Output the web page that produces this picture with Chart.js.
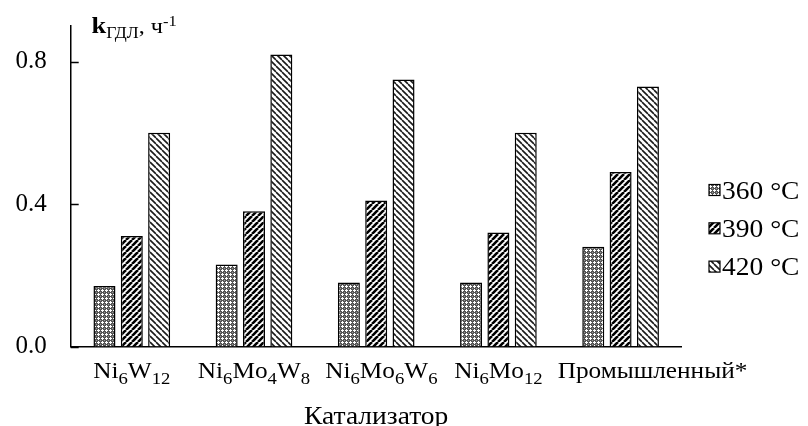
<!DOCTYPE html>
<html>
<head>
<meta charset="utf-8">
<script src="https://cdn.jsdelivr.net/npm/chart.js@4.4.1/dist/chart.umd.min.js"></script>
<style>
  html, body { margin: 0; padding: 0; background: #fff; }
  canvas { display: block; }
</style>
</head>
<body>
<canvas id="chart" width="808" height="426"></canvas>
<script>
// Catalyst names (digits are written as subscripts) and rate constants k, h^-1
const categories = ['Ni6W12', 'Ni6Mo4W8', 'Ni6Mo6W6', 'Ni6Mo12', 'Промышленный*'];
const seriesLabels = ['360 °C', '390 °C', '420 °C'];
const k360 = [0.17, 0.23, 0.18, 0.18, 0.28];
const k390 = [0.31, 0.38, 0.41, 0.32, 0.49];
const k420 = [0.60, 0.82, 0.75, 0.60, 0.73];
const yTickValues = [0.0, 0.4, 0.8];
const xAxisTitle = 'Катализатор';

const SERIF = '"Liberation Serif", "Times New Roman", serif';
const TEXT_SX = 1.1; // slight horizontal widening of the serif text

// Hatch fills for the three temperature series
function makePattern(kind) {
  const c = document.createElement('canvas');
  const s = kind === 'mesh' ? 4 : 6;
  c.width = s; c.height = s;
  const g = c.getContext('2d');
  g.fillStyle = '#fff';
  g.fillRect(0, 0, s, s);
  if (kind === 'mesh') {
    g.fillStyle = '#555';
    g.fillRect(0, 0, s, s);
    g.fillStyle = '#fff';
    g.fillRect(2, 1, 1, 3);
    g.fillRect(1, 2, 3, 1);
    g.fillStyle = '#999';
    g.fillRect(0, 0, 1, 1);
  } else {
    g.strokeStyle = kind === 'up' ? '#000' : '#1a1a1a';
    g.lineWidth = kind === 'up' ? 2.6 : 1.6;
    g.beginPath();
    for (let k = -1; k <= 1; k++) {
      if (kind === 'up') { g.moveTo(k * s, s); g.lineTo(k * s + s, 0); }
      else { g.moveTo(k * s, 0); g.lineTo(k * s + s, s); }
    }
    g.stroke();
  }
  return g.createPattern(c, 'repeat');
}

const ctx0 = document.getElementById('chart').getContext('2d');
const fills = [makePattern('mesh'), makePattern('up'), makePattern('down')];
const seriesValues = [k360, k390, k420];

function drawText(ctx, str, x, y, font, align) {
  ctx.save();
  ctx.font = font;
  ctx.textBaseline = 'alphabetic';
  const w = ctx.measureText(str).width * TEXT_SX;
  let left = x;
  if (align === 'center') left = x - w / 2;
  else if (align === 'right') left = x - w;
  ctx.translate(left, y);
  ctx.scale(TEXT_SX, 1);
  ctx.fillText(str, 0, 0);
  ctx.restore();
  return w;
}

function textWidth(ctx, str, font) {
  ctx.save(); ctx.font = font;
  const w = ctx.measureText(str).width * TEXT_SX;
  ctx.restore();
  return w;
}

// Splits a formula into letter runs and subscript digit runs
function formulaParts(name) {
  const parts = [];
  const re = /(\d+)|([^\d]+)/g;
  let m;
  while ((m = re.exec(name)) !== null) {
    parts.push({ text: m[0], sub: !!m[1] });
  }
  return parts;
}

const decorations = {
  id: 'decorations',
  afterDraw(chart) {
    const ctx = chart.ctx;
    const xs = chart.scales.x, ys = chart.scales.y;
    const area = chart.chartArea;
    ctx.save();
    ctx.fillStyle = '#000';
    ctx.strokeStyle = '#000';

    // inward tick marks on the value axis
    ctx.lineWidth = 1.5;
    yTickValues.forEach(v => {
      const y = Math.round(ys.getPixelForValue(v)) + 0.5;
      ctx.beginPath();
      ctx.moveTo(area.left, y);
      ctx.lineTo(area.left + 8, y);
      ctx.stroke();
    });

    // category labels with subscripts; a label never overlaps the previous one
    const mainFont = '23px ' + SERIF;
    const subFont = '17px ' + SERIF;
    let prevRight = -Infinity;
    categories.forEach((name, i) => {
      const parts = formulaParts(name);
      let total = 0;
      parts.forEach(p => { total += textWidth(ctx, p.text, p.sub ? subFont : mainFont); });
      let x = Math.max(xs.getPixelForValue(i) - total / 2, prevRight + 15);
      parts.forEach(p => {
        x += drawText(ctx, p.text, x, p.sub ? 384 : 378, p.sub ? subFont : mainFont, 'left');
      });
      prevRight = x;
    });

    // axis title under the categories
    drawText(ctx, xAxisTitle, (area.left + area.right) / 2, 424, '25px ' + SERIF, 'center');

    // value axis title: k with subscript, unit with superscript
    let tx = 91.5;
    tx += drawText(ctx, 'k', tx, 33, 'bold 24px ' + SERIF, 'left');
    tx += drawText(ctx, 'ГДЛ', tx, 38, '16px ' + SERIF, 'left');
    tx += drawText(ctx, ', ч', tx, 33, '22px ' + SERIF, 'left');
    drawText(ctx, '-1', tx, 26, '15px ' + SERIF, 'left');

    // legend
    chart.data.datasets.forEach((ds, i) => {
      const cy = 190 + i * 38.3;
      ctx.fillStyle = ds.backgroundColor;
      ctx.fillRect(709, cy - 5.5, 11, 11);
      ctx.lineWidth = 1.2;
      ctx.strokeRect(709, cy - 5.5, 11, 11);
      ctx.fillStyle = '#000';
      drawText(ctx, ds.label, 722, cy + 8.5, '25px ' + SERIF, 'left');
    });
    ctx.restore();
  }
};

new Chart(ctx0, {
  type: 'bar',
  data: {
    labels: categories,
    datasets: seriesLabels.map((label, i) => ({
      label: label,
      data: seriesValues[i],
      backgroundColor: fills[i],
      borderColor: '#000',
      borderWidth: 1.5,
      categoryPercentage: 0.671,
      barPercentage: 0.805
    }))
  },
  options: {
    responsive: false,
    animation: false,
    devicePixelRatio: 1,
    layout: { padding: { left: 0, right: 126.3, top: 26, bottom: 0 } },
    plugins: { legend: { display: false }, tooltip: { enabled: false } },
    scales: {
      x: {
        grid: { display: false, drawTicks: false },
        border: { display: true, color: '#000', width: 1.5 },
        ticks: { display: false },
        afterFit(s) { s.height = 79.5; s.paddingLeft = 0; s.paddingRight = 0; }
      },
      y: {
        min: 0,
        max: 0.9,
        grid: { display: false, drawTicks: false },
        border: { display: true, color: '#000', width: 1.5 },
        ticks: {
          padding: 24,
          color: '#000',
          font: { family: SERIF, size: 25 },
          callback: v => v.toFixed(1)
        },
        afterBuildTicks(s) { s.ticks = yTickValues.map(v => ({ value: v })); },
        afterFit(s) { s.width = 70.7; s.paddingTop = 0; s.paddingBottom = 0; }
      }
    }
  },
  plugins: [decorations]
});
</script>
</body>
</html>
